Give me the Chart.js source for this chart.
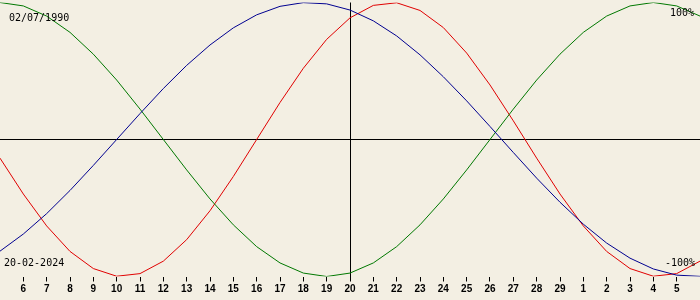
<!DOCTYPE html>
<html>
<head>
<meta charset="utf-8">
<script src="https://cdn.jsdelivr.net/npm/chart.js@4/dist/chart.umd.min.js"></script>
<style>
  html, body { margin: 0; padding: 0; background: #f3efe3; }
  #wrap { width: 700px; height: 300px; }
</style>
</head>
<body>
<div id="wrap"><canvas id="c" width="700" height="300"></canvas></div>
<script>
// Days shown (05 Feb 2024 .. 06 Mar 2024), centre day = 20
const dayLabels = ['5','6','7','8','9','10','11','12','13','14','15','16','17','18','19','20',
  '21','22','23','24','25','26','27','28','29','1','2','3','4','5','6'];

// Biorhythm values (fraction of 100%), one per day
const physical = [-0.136,-0.398,-0.631,-0.817,-0.942,-0.998,-0.979,-0.888,-0.731,-0.520,-0.270,0.000,
  0.270,0.520,0.731,0.888,0.979,0.998,0.942,0.817,0.631,0.398,0.136,-0.136,-0.398,-0.631,-0.817,
  -0.942,-0.998,-0.979,-0.888];
const emotional = [1.000,0.975,0.901,0.782,0.623,0.434,0.222,0.000,-0.222,-0.434,-0.623,-0.782,
  -0.901,-0.975,-1.000,-0.975,-0.901,-0.782,-0.623,-0.434,-0.222,0.000,0.222,0.434,0.623,0.782,
  0.901,0.975,1.000,0.975,0.901];
const intellectual = [-0.815,-0.690,-0.541,-0.372,-0.189,0.000,0.189,0.372,0.541,0.690,0.815,0.910,
  0.972,0.999,0.990,0.945,0.866,0.756,0.618,0.458,0.282,0.095,-0.095,-0.282,-0.458,-0.618,-0.756,
  -0.866,-0.945,-0.990,-0.999];

const birthText = '02/07/1990';
const dateText = '20-02-2024';
const topText = '100%';
const bottomText = '-100%';
const centreIndex = 15;

const cornerText = {
  id: 'cornerText',
  afterDraw(chart) {
    const ctx = chart.ctx;
    ctx.save();
    ctx.fillStyle = '#000';
    ctx.font = '10px "DejaVu Sans Mono"';
    ctx.textBaseline = 'alphabetic';
    ctx.textAlign = 'left';
    ctx.fillText(birthText, 9, 21);
    ctx.fillText(dateText, 4, 266);
    ctx.textAlign = 'right';
    ctx.fillText(topText, 694, 16);
    ctx.fillText(bottomText, 695, 266);
    ctx.restore();
  }
};

const line = (data, color) => ({
  data, borderColor: color, borderWidth: 1, pointRadius: 0, tension: 0, fill: false
});

new Chart(document.getElementById('c'), {
  type: 'line',
  data: {
    labels: dayLabels,
    datasets: [
      line(intellectual, '#000090'),
      line(emotional, '#007800'),
      line(physical, '#e00000')
    ]
  },
  options: {
    responsive: false,
    animation: false,
    events: [],
    layout: { padding: { top: 2.5, left: 0, right: 0, bottom: 0 }, autoPadding: false },
    plugins: { legend: { display: false }, tooltip: { enabled: false }, title: { display: false } },
    scales: {
      x: {
        type: 'category',
        offset: false,
        border: { display: false },
        grid: {
          offset: false,
          lineWidth: 1,
          color: c => c.index === centreIndex ? '#000' : 'rgba(0,0,0,0)',
          tickColor: c => (c.index === 0 || c.index === dayLabels.length - 1) ? 'rgba(0,0,0,0)' : '#000',
          tickLength: 5
        },
        ticks: {
          autoSkip: false,
          maxRotation: 0,
          minRotation: 0,
          padding: 2,
          color: '#000',
          font: { family: '"Liberation Sans"', size: 10, weight: 'bold' },
          callback: (v, i) => (i === 0 || i === dayLabels.length - 1) ? '' : dayLabels[i]
        },
        afterFit: s => { s.height = 23.5; s.paddingLeft = 0; s.paddingRight = 0; }
      },
      y: {
        min: -1, max: 1,
        border: { display: false },
        grid: { color: c => c.tick.value === 0 ? '#000' : 'rgba(0,0,0,0)', drawTicks: false, lineWidth: 1 },
        ticks: { display: false, stepSize: 1 },
        afterFit: s => { s.width = 0; s.paddingTop = 0; s.paddingBottom = 0; }
      }
    }
  },
  plugins: [cornerText]
});
</script>
</body>
</html>
